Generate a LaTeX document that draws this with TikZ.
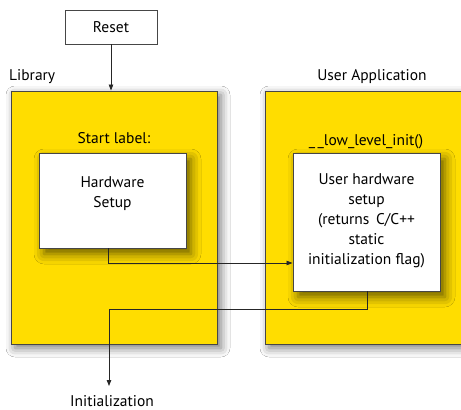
\documentclass[tikz,border=0pt]{standalone}
\usepackage{fontspec}
\setmainfont{PT Sans}
\usetikzlibrary{arrows.meta,shadows.blur}
\definecolor{libyellow}{RGB}{255,221,0}
\definecolor{edgegray}{RGB}{70,70,70}
\tikzset{
  txt/.style={font=\fontsize{15.5}{20}\selectfont, inner sep=0pt, align=center},
  region/.style={draw=edgegray, line width=0.9pt, fill=libyellow, inner sep=0pt,
    blur shadow={shadow xshift=4pt, shadow yshift=-4pt, shadow blur radius=9pt, shadow opacity=55}},
  wbox/.style={draw=edgegray, line width=0.9pt, fill=white, inner sep=0pt,
    blur shadow={shadow xshift=5pt, shadow yshift=-6pt, shadow blur radius=10pt, shadow opacity=60}},
  resetbox/.style={draw=edgegray, line width=0.8pt, fill=white, inner sep=0pt},
  conn/.style={draw=black!85, line width=0.8pt, -{Triangle[length=6pt,width=4.5pt]}}
}
\begin{document}
\begin{tikzpicture}[x=1pt,y=-1pt]
\clip (0,0) rectangle (461,410);
\fill[white] (0,0) rectangle (461,410);
% regions
\node[region, minimum width=206pt, minimum height=253pt] (lib) at (114,217.5) {};
\node[region, minimum width=210pt, minimum height=253pt] (app) at (370,217.5) {};
% reset
\node[resetbox, minimum width=92pt, minimum height=34pt] (reset) at (111,27) {};
\node[txt] (resettxt) at (111,27) {Reset};
% labels
\node[txt, anchor=west] (libl) at (9,77) {Library};
\node[txt] (appl) at (372,77) {User Application};
\node[txt] (startl) at (114,138) {Start label:};
\node[txt] (initl) at (366,142) {\_\hspace{2.5pt}\_low\_level\_init()};
% inner boxes
\node[wbox, minimum width=147pt, minimum height=95pt] (hw) at (112.5,200.5) {};
\node[txt] (hwtxt) at (112.5,194) {Hardware\\Setup};
\node[wbox, minimum width=147pt, minimum height=138pt] (uhw) at (366.5,222) {};
\node[txt] (uhwtxt) at (366.5,221) {User hardware\\setup\\(returns\, C/C++\\static\\initialization flag)};
\node[txt, anchor=base] (init) at (112,406.5) {Initialization};
% connectors
\coordinate (c1) at (108,263);
\coordinate (c2) at (367,309);
\coordinate (c3) at (109,309);
\coordinate (endp) at (109,386);
\draw[conn] (reset.south) -- (reset.south |- lib.north);
\draw[conn] (hw.south -| c1) -- (c1) -- (uhw.west |- c1);
\draw[conn] (uhw.south -| c2) -- (c2) -- (c3) -- (endp);
\end{tikzpicture}
\end{document}
